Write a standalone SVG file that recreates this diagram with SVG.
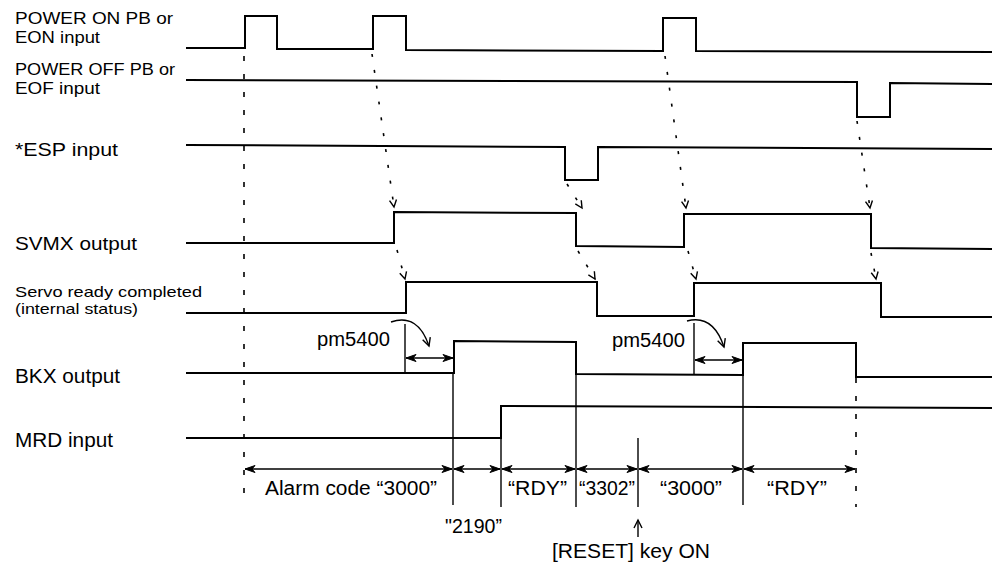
<svg xmlns="http://www.w3.org/2000/svg" width="996" height="567" viewBox="0 0 996 567">
<style>
text{font-family:"Liberation Sans",Arial,sans-serif;fill:#000;}
.lbl{font-size:19px;}
.two{font-size:16.5px;}
.sm{font-size:15px;}
.big{font-size:20px;}
.wave{fill:none;stroke:#000;stroke-width:2;stroke-linejoin:miter;}
.ext{fill:none;stroke:#000;stroke-width:1.4;}
.dash{fill:none;stroke:#000;stroke-width:1.6;stroke-dasharray:5 13;}
.dot{fill:none;stroke:#000;stroke-width:1.6;stroke-dasharray:3 13;marker-end:url(#vh);}
.dim{fill:none;stroke:#000;stroke-width:1.6;marker-start:url(#dh);marker-end:url(#dh);}
.curve{fill:none;stroke:#000;stroke-width:1.4;marker-end:url(#ch);}
</style>
<defs>
<marker id="vh" markerUnits="userSpaceOnUse" markerWidth="14" markerHeight="14" refX="0" refY="0" viewBox="-8 -7 10 14" orient="auto"><path d="M-7,-3.5 L0,0 L-7,3.5" fill="none" stroke="#000" stroke-width="1.4"/></marker>
<marker id="dh" markerUnits="userSpaceOnUse" markerWidth="14" markerHeight="10" refX="0" refY="0" viewBox="-12 -5 14 10" orient="auto-start-reverse"><path d="M-10,-3.5 L0,0 L-10,3.5 L-7,0 Z" fill="#000" stroke="#000" stroke-width="1"/></marker>
<marker id="ch" markerUnits="userSpaceOnUse" markerWidth="14" markerHeight="14" refX="0" refY="0" viewBox="-10 -7 12 14" orient="auto"><path d="M-8,-4 L0,0 L-8,4" fill="none" stroke="#000" stroke-width="1.4"/></marker>
</defs>

<g id="power-on">
<text class="two" x="15" y="24" textLength="158" lengthAdjust="spacingAndGlyphs">POWER ON PB or</text>
<text class="two" x="15" y="43" textLength="85" lengthAdjust="spacingAndGlyphs">EON input</text>
<path class="wave" d="M186,48 L245,48 V16 H277 V49 L373,49 V16 H406 V50 L663,51 V18 H696 V51 L992,52"/>
</g>

<g id="power-off">
<text class="two" x="15" y="75" textLength="160" lengthAdjust="spacingAndGlyphs">POWER OFF PB or</text>
<text class="two" x="15" y="94" textLength="85" lengthAdjust="spacingAndGlyphs">EOF input</text>
<path class="wave" d="M186,80 L857,82 V117 H890 V83 L992,84"/>
</g>

<g id="esp">
<text class="lbl" x="15" y="156" textLength="103" lengthAdjust="spacingAndGlyphs">*ESP input</text>
<path class="wave" d="M186,145 L565,147 V180 H598 V147 L992,149"/>
</g>

<g id="svmx">
<text class="lbl" x="15" y="250" textLength="122" lengthAdjust="spacingAndGlyphs">SVMX output</text>
<path class="wave" d="M186,243 L394,243 V212 L576,213 V246 L684,247 V214 L871,214 V248 L992,249"/>
</g>

<g id="servo-ready">
<text class="sm" x="15" y="297" textLength="187" lengthAdjust="spacingAndGlyphs">Servo ready completed</text>
<text class="sm" x="15" y="314" textLength="123" lengthAdjust="spacingAndGlyphs">(internal status)</text>
<path class="wave" d="M186,313 L406,313 V282 L597,282 V316 L694,316 V283 L881,283 V317 L992,317"/>
</g>

<g id="bkx">
<text class="big" x="15" y="383" textLength="105" lengthAdjust="spacingAndGlyphs">BKX output</text>
<path class="wave" d="M186,373 L454,373 V341 L576,342 V374 L743,375 V343 L856,343 V377 L992,377"/>
</g>

<g id="mrd">
<text class="big" x="15" y="447" textLength="98" lengthAdjust="spacingAndGlyphs">MRD input</text>
<path class="wave" d="M186,438 L501,438 V406 L992,408"/>
</g>

<g id="pm5400-1">
<text class="big" x="317" y="346" textLength="73" lengthAdjust="spacingAndGlyphs">pm5400</text>
</g>
<g id="pm5400-2">
<text class="big" x="612" y="347" textLength="73" lengthAdjust="spacingAndGlyphs">pm5400</text>
</g>

<g id="periods">
<text class="big" x="265" y="495" textLength="172" lengthAdjust="spacingAndGlyphs">Alarm code “3000”</text>
<text class="big" x="445" y="533" textLength="57" lengthAdjust="spacingAndGlyphs">"2190”</text>
<text class="big" x="508" y="495" textLength="59" lengthAdjust="spacingAndGlyphs">“RDY”</text>
<text class="big" x="579" y="495" textLength="56" lengthAdjust="spacingAndGlyphs">“3302”</text>
<text class="big" x="660" y="495" textLength="62" lengthAdjust="spacingAndGlyphs">“3000”</text>
<text class="big" x="767" y="495" textLength="60" lengthAdjust="spacingAndGlyphs">“RDY”</text>
<text class="big" x="552" y="558" textLength="158" lengthAdjust="spacingAndGlyphs">[RESET] key ON</text>
</g>

<g id="connectors">
<path class="dot" d="M372,54 L394,207"/>
<path class="dot" d="M397,250 L405,279"/>
<path class="dot" d="M567,184 L582,208"/>
<path class="dot" d="M578,251 L595,279"/>
<path class="dot" d="M665,56 L686,208"/>
<path class="dot" d="M688,251 L696,279"/>
<path class="dot" d="M857,121 L870,208"/>
<path class="dot" d="M871,253 L876,279"/>
<path class="dash" d="M244,56 V505"/>
<path class="dash" d="M856,378 V507"/>
<path class="ext" d="M453,373 V505"/>
<path class="ext" d="M501,438 V507"/>
<path class="ext" d="M576,374 V507"/>
<path class="ext" d="M638,438 V507"/>
<path class="ext" d="M743,375 V505"/>
<path class="dim" d="M245,469 H452"/>
<path class="dim" d="M454,469 H500"/>
<path class="dim" d="M502,469 H575"/>
<path class="dim" d="M577,469 H637"/>
<path class="dim" d="M639,469 H742"/>
<path class="dim" d="M744,469 H855"/>
<path class="ext" d="M638,537 V520" marker-end="url(#ch)"/>
<path class="ext" d="M405,324 V373"/>
<path class="dim" d="M406,358 H453"/>
<path class="curve" d="M391,322 Q418,313 429,346"/>
<path class="ext" d="M694,323 V374"/>
<path class="dim" d="M695,360 H742"/>
<path class="curve" d="M687,321 Q713,314 724,347"/>
</g>
</svg>
